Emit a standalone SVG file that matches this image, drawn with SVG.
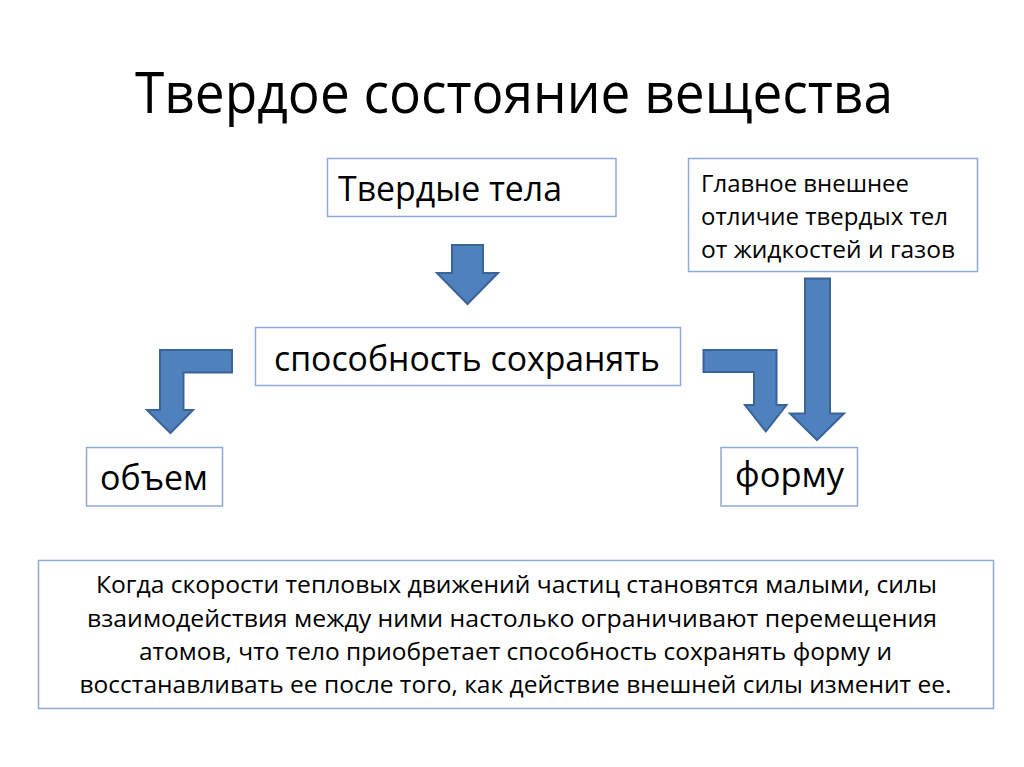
<svg xmlns="http://www.w3.org/2000/svg" width="1024" height="767" viewBox="0 0 1024 767">
<style>
.box{fill:#ffffff;stroke:#8eaad6;stroke-width:1.5}
.arr{fill:#4f81bd;stroke:#3a639a;stroke-width:2;stroke-linejoin:miter}
text{font-family:"Open Sans","Noto Sans","DejaVu Sans",sans-serif;fill:#000000}
.t1{font-size:56px}
.t2{font-size:34px}
.t3{font-size:24px}
.t4{font-size:23px}
</style>
<rect x="0" y="0" width="1024" height="767" fill="#ffffff"/>
<g id="title"><text class="t1" x="135" y="113" textLength="758" lengthAdjust="spacingAndGlyphs">Твердое состояние вещества</text></g>
<g id="connectors">
<path class="arr" d="M452,245 H483 V273 H498 L467.5,304 L437,273 H452 Z"/>
<path class="arr" d="M232,350 H160 V410 H147 L170.5,433 L193,410 H183.5 V372.5 H232 Z"/>
<path class="arr" d="M703.5,350 H776.5 V405 H786.5 L765.8,431.5 L745,405 H754 V372 H703.5 Z"/>
<path class="arr" d="M805,278.5 H830 V413.5 H844 L817,440 L790,413.5 H805 Z"/>
</g>
<g id="node-solids"><rect class="box" x="327.5" y="158.5" width="288.5" height="58"/><text class="t2" x="338" y="201" textLength="224" lengthAdjust="spacingAndGlyphs">Твердые тела</text></g>
<g id="node-main"><rect class="box" x="688.5" y="158.5" width="289" height="113"/>
<text class="t3" x="701" y="192" textLength="208" lengthAdjust="spacingAndGlyphs">Главное внешнее</text>
<text class="t3" x="701" y="225" textLength="247" lengthAdjust="spacingAndGlyphs">отличие твердых тел</text>
<text class="t3" x="701" y="258" textLength="254" lengthAdjust="spacingAndGlyphs">от жидкостей и газов</text></g>
<g id="node-ability"><rect class="box" x="255.5" y="327.5" width="425" height="58"/><text class="t2" x="274" y="371" textLength="386" lengthAdjust="spacingAndGlyphs">способность сохранять</text></g>
<g id="node-volume"><rect class="box" x="86.5" y="447.5" width="136" height="58.5"/><text class="t2" x="100" y="490" textLength="108" lengthAdjust="spacingAndGlyphs">объем</text></g>
<g id="node-shape"><rect class="box" x="721" y="447.5" width="136.5" height="58.5"/><text class="t2" x="735" y="487" textLength="109" lengthAdjust="spacingAndGlyphs">форму</text></g>
<g id="node-text"><rect class="box" x="38.5" y="560.5" width="955" height="148"/>
<text class="t4" x="96" y="593" textLength="841" lengthAdjust="spacingAndGlyphs">Когда скорости тепловых движений частиц становятся малыми, силы</text>
<text class="t4" x="87" y="626.5" textLength="850" lengthAdjust="spacingAndGlyphs">взаимодействия между ними настолько ограничивают перемещения</text>
<text class="t4" x="139" y="660" textLength="753" lengthAdjust="spacingAndGlyphs">атомов, что тело приобретает способность сохранять форму и</text>
<text class="t4" x="79.5" y="693" textLength="872" lengthAdjust="spacingAndGlyphs">восстанавливать ее после того, как действие внешней силы изменит ее.</text></g>
</svg>
